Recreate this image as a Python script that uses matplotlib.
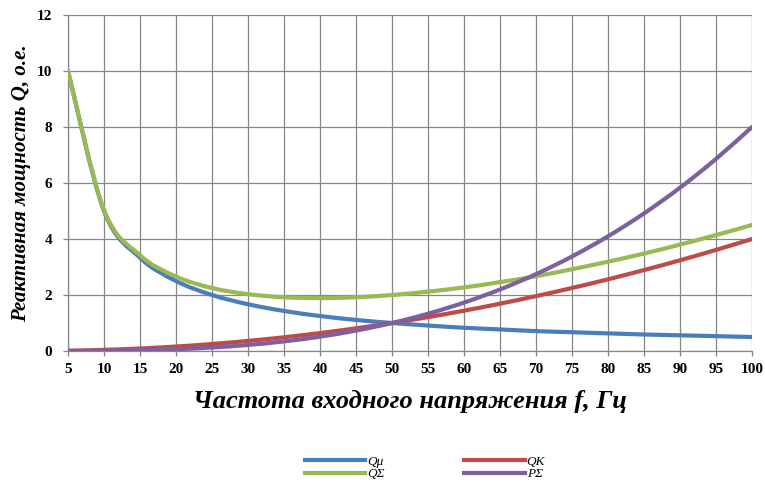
import matplotlib
matplotlib.use("Agg")
import matplotlib.pyplot as plt
from matplotlib.path import Path
from matplotlib.patches import PathPatch
from matplotlib.lines import Line2D

freq = [5, 10, 15, 20, 25, 30, 35, 40, 45, 50, 55, 60, 65, 70, 75, 80, 85, 90, 95, 100]
q_mu = [10.0, 5.0, 3.33, 2.5, 2.0, 1.67, 1.43, 1.25, 1.11, 1.0, 0.91, 0.83, 0.77, 0.71, 0.67, 0.63, 0.59, 0.56, 0.53, 0.5]
q_k = [0.01, 0.04, 0.09, 0.16, 0.25, 0.36, 0.49, 0.64, 0.81, 1.0, 1.21, 1.44, 1.69, 1.96, 2.25, 2.56, 2.89, 3.24, 3.61, 4.0]
q_sum = [10.01, 5.04, 3.42, 2.66, 2.25, 2.03, 1.92, 1.89, 1.92, 2.0, 2.12, 2.27, 2.46, 2.67, 2.92, 3.19, 3.48, 3.80, 4.14, 4.5]
p_sum = [0.001, 0.008, 0.027, 0.064, 0.125, 0.216, 0.343, 0.512, 0.729, 1.0, 1.331, 1.728, 2.197, 2.744, 3.375, 4.096, 4.913, 5.832, 6.859, 8.0]

series = [
    ("Qμ", q_mu, "#4a7ebb"),
    ("QK", q_k, "#be4b48"),
    ("QΣ", q_sum, "#98b954"),
    ("PΣ", p_sum, "#7d60a0"),
]

plt.rcParams['font.family'] = ['Liberation Serif', 'DejaVu Serif']

fig = plt.figure(figsize=(7.65, 4.84), dpi=100)
ax = fig.add_axes([68/765, 1-351/484, (752-68)/765, (351-15)/484])


def smooth_path(xs, ys):
    # Excel-style smoothed line (Catmull-Rom as cubic Bezier)
    verts = [(xs[0], ys[0])]
    codes = [Path.MOVETO]
    n = len(xs)
    for i in range(n - 1):
        x0, y0 = (xs[i - 1], ys[i - 1]) if i > 0 else (xs[i], ys[i])
        x1, y1 = xs[i], ys[i]
        x2, y2 = xs[i + 1], ys[i + 1]
        x3, y3 = (xs[i + 2], ys[i + 2]) if i + 2 < n else (x2, y2)
        t = 1 / 6
        c1 = (x1 + (x2 - x0) * t, y1 + (y2 - y0) * t)
        c2 = (x2 - (x3 - x1) * t, y2 - (y3 - y1) * t)
        verts += [c1, c2, (x2, y2)]
        codes += [Path.CURVE4] * 3
    return Path(verts, codes)


for name, vals, col in series:
    ax.add_patch(PathPatch(smooth_path(freq, vals), fill=False, edgecolor=col,
                           lw=3.0, capstyle='round', joinstyle='round', zorder=3))

ax.set_xlim(5, 100)
ax.set_ylim(0, 12)
ax.set_xticks(freq)
ax.set_yticks(range(0, 13, 2))
ax.grid(True, color="#868686", lw=0.9)
ax.set_axisbelow(True)
for s in ["top", "right"]:
    ax.spines[s].set_visible(False)
for s in ["left", "bottom"]:
    ax.spines[s].set_color("#868686")
    ax.spines[s].set_linewidth(0.9)
ax.tick_params(axis='both', colors="#868686", length=3.5, width=0.9, labelcolor="black",
               labelsize=11)
for lab in ax.get_xticklabels() + ax.get_yticklabels():
    lab.set_fontweight("bold")
ax.tick_params(axis='y', pad=8)
ax.tick_params(axis='x', pad=5)

ax.set_xlabel("Частота входного напряжения f, Гц", fontsize=19, fontstyle='italic',
              fontweight='bold', labelpad=10)
ax.set_ylabel("Реактивная мощность Q, о.е.", fontsize=15, fontstyle='italic',
              fontweight='bold', labelpad=4)

handles = [Line2D([0], [0], color=c, lw=3.0) for _, _, c in series]
labels = [n for n, _, _ in series]
order = [0, 2, 1, 3]
leg = fig.legend([handles[i] for i in order], [labels[i] for i in order], ncol=2,
                 loc='center', bbox_to_anchor=(425/765, 1-468/484), frameon=False,
                 handlelength=4.6, columnspacing=6.0, handletextpad=0.15,
                 labelspacing=0.02, prop={'style': 'italic', 'size': 9.5})

fig.savefig("out.png", dpi=100, facecolor="white")
